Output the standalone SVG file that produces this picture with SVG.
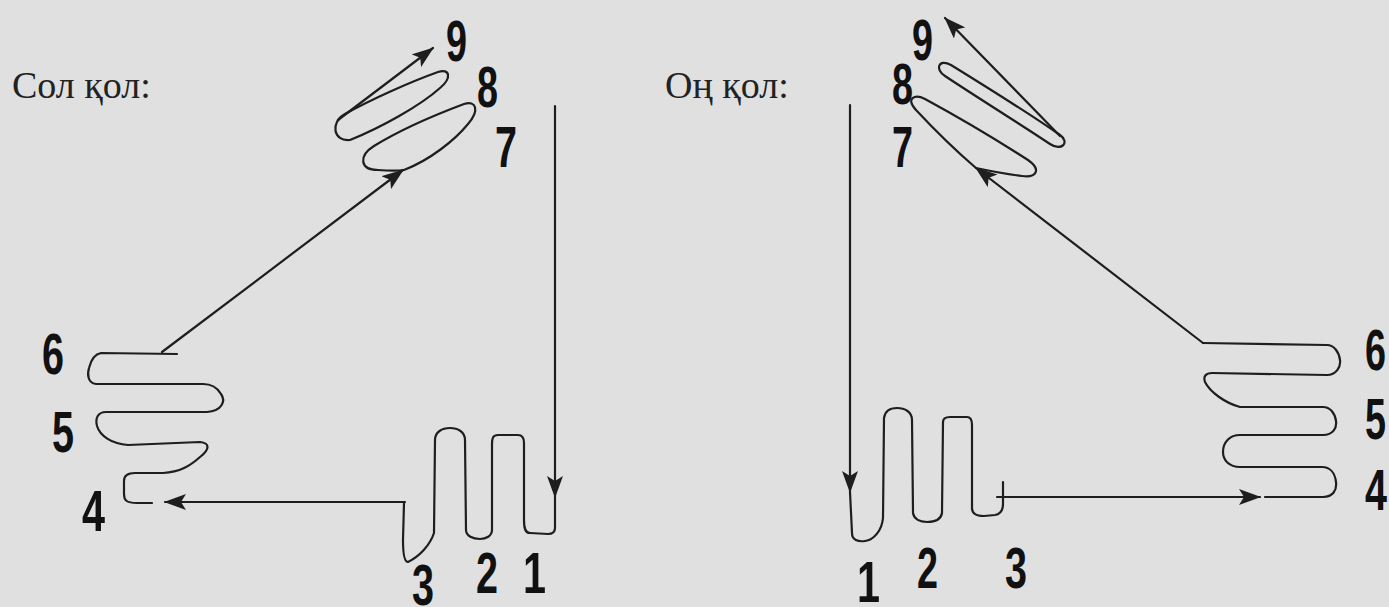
<svg xmlns="http://www.w3.org/2000/svg" width="1389" height="607" viewBox="0 0 1389 607">
<defs>
<style>
.ln{fill:none;stroke:#1e1e1e;stroke-width:2.2;stroke-linecap:round;stroke-linejoin:round}
.ttl{font-family:"Liberation Serif","Times New Roman",serif;font-size:38px;fill:#222}
.num{font-family:"Liberation Sans",Arial,sans-serif;font-weight:bold;font-size:58px;fill:#111}
</style>
<marker id="ah" viewBox="0 0 22 16" refX="21" refY="8" markerWidth="22" markerHeight="16" markerUnits="userSpaceOnUse" orient="auto">
<path d="M0,0 L22,8 L0,16 L5,8 z" fill="#1e1e1e"/>
</marker>
</defs>
<rect width="1389" height="607" fill="#e0e0e0"/>

<g id="left-hand">
<text class="ttl" x="12" y="98">Сол қол:</text>
<g id="left-fingers">
<path class="ln" d="M555,497 L555,528 C555,533 552,534 548,534 L530,533 C525,533 524,528 524,520 L524,443 C524,437 522,435 518,435 L498,435 C493,435 492,438 492,444 L492,530 C492,536 486,539 480,539 C473,539 466,536 466,530 L465,440 C465,432 458,428 450,428 C442,428 435,432 435,440 L434,533 C430,545 420,556 408,562 C405,562 403,556 403,540 L404,503"/>
<text class="num" x="412" y="605" textLength="22" lengthAdjust="spacingAndGlyphs">3</text>
<text class="num" x="476" y="593" textLength="22" lengthAdjust="spacingAndGlyphs">2</text>
<text class="num" x="523" y="593" textLength="23" lengthAdjust="spacingAndGlyphs">1</text>
</g>
<g id="left-palm">
<path class="ln" d="M152,503 L137,503 C126,503 124,500 124,494 L124,481 C124,475 128,473 135,473 L163,473 C180,472 190,466 200,457 C210,449 210,443 200,442 L128,445 C112,444 100,436 97,426 C95,418 98,412 106,412 L207,412 C222,411 226,401 221,394 C217,387 211,384 203,384 L96,384 C88,383 87,375 89,368 C91,360 95,354 101,353 L177,354"/>
<text class="num" x="42" y="374" textLength="22" lengthAdjust="spacingAndGlyphs">6</text>
<text class="num" x="52" y="452" textLength="22" lengthAdjust="spacingAndGlyphs">5</text>
<text class="num" x="82" y="531" textLength="23" lengthAdjust="spacingAndGlyphs">4</text>
</g>
<g id="left-wrist">
<path class="ln" d="M404,170 C430,160 455,140 468,124 C480,110 476,100 464,104 C440,113 400,130 374,146 C358,156 360,170 378,170 C390,171 398,171 404,170 Z"/>
<path class="ln" d="M350,140 C380,128 420,106 440,88 C452,78 450,68 438,72 C410,82 370,100 345,114 C330,122 333,142 350,140 Z"/>
<path class="ln" d="M338,120 L433,48" marker-end="url(#ah)"/>
<text class="num" x="446" y="61" textLength="21" lengthAdjust="spacingAndGlyphs">9</text>
<text class="num" x="477" y="107" textLength="21" lengthAdjust="spacingAndGlyphs">8</text>
<text class="num" x="495" y="167" textLength="22" lengthAdjust="spacingAndGlyphs">7</text>
</g>
</g>

<g id="right-hand">
<text class="ttl" x="665" y="98">Оң қол:</text>
<g id="right-fingers">
<path class="ln" d="M850,492 L852,533 C852,540 858,542 865,541 C874,540 882,530 883,518 L884,418 C885,411 890,408 897,408 C905,408 912,412 912,420 L913,513 C914,519 920,522 927,522 C935,522 941,519 942,513 L943,422 C943,418 946,417 950,417 L967,417 C971,417 972,420 972,425 L972,508 C972,514 976,516 984,516 L995,515 C1001,514 1003,510 1003,504 L1003,482"/>
<text class="num" x="857" y="602" textLength="23" lengthAdjust="spacingAndGlyphs">1</text>
<text class="num" x="917" y="588" textLength="21" lengthAdjust="spacingAndGlyphs">2</text>
<text class="num" x="1005" y="588" textLength="22" lengthAdjust="spacingAndGlyphs">3</text>
</g>
<g id="right-palm">
<path class="ln" d="M1265,497 L1323,497 C1333,497 1337,490 1336,482 C1335,473 1330,467 1322,467 L1240,467 C1229,467 1223,460 1223,452 C1223,442 1230,435 1240,435 L1323,435 C1333,435 1337,428 1336,421 C1335,413 1330,407 1323,407 L1240,407 C1225,403 1210,392 1205,382 C1203,376 1206,373 1212,373 L1327,375 C1336,375 1341,367 1340,360 C1339,352 1334,345 1327,345 L1203,343"/>
<text class="num" x="1365" y="370" textLength="21" lengthAdjust="spacingAndGlyphs">6</text>
<text class="num" x="1365" y="439" textLength="21" lengthAdjust="spacingAndGlyphs">5</text>
<text class="num" x="1365" y="510" textLength="22" lengthAdjust="spacingAndGlyphs">4</text>
</g>
<g id="right-wrist">
<path class="ln" d="M976,168 C955,150 930,125 916,110 C905,98 915,94 925,99 C960,118 1000,142 1028,160 C1042,170 1036,178 1022,176 C1005,174 990,171 976,168 Z"/>
<path class="ln" d="M945,76 C975,96 1020,124 1050,144 C1062,152 1070,142 1060,135 C1030,114 985,86 951,65 C938,58 935,70 945,76 Z"/>
<path class="ln" d="M1060,136 L945,18" marker-end="url(#ah)"/>
<text class="num" x="912" y="60" textLength="21" lengthAdjust="spacingAndGlyphs">9</text>
<text class="num" x="892" y="104" textLength="21" lengthAdjust="spacingAndGlyphs">8</text>
<text class="num" x="892" y="167" textLength="21" lengthAdjust="spacingAndGlyphs">7</text>
</g>
</g>

<g id="connectors">
<line class="ln" x1="555" y1="106" x2="555" y2="497" marker-end="url(#ah)"/>
<line class="ln" x1="405" y1="502" x2="165" y2="502" marker-end="url(#ah)"/>
<line class="ln" x1="162" y1="352" x2="403" y2="170" marker-end="url(#ah)"/>
<line class="ln" x1="850" y1="105" x2="850" y2="492" marker-end="url(#ah)"/>
<line class="ln" x1="997" y1="497" x2="1260" y2="497" marker-end="url(#ah)"/>
<line class="ln" x1="1203" y1="343" x2="976" y2="168" marker-end="url(#ah)"/>
</g>
</svg>
